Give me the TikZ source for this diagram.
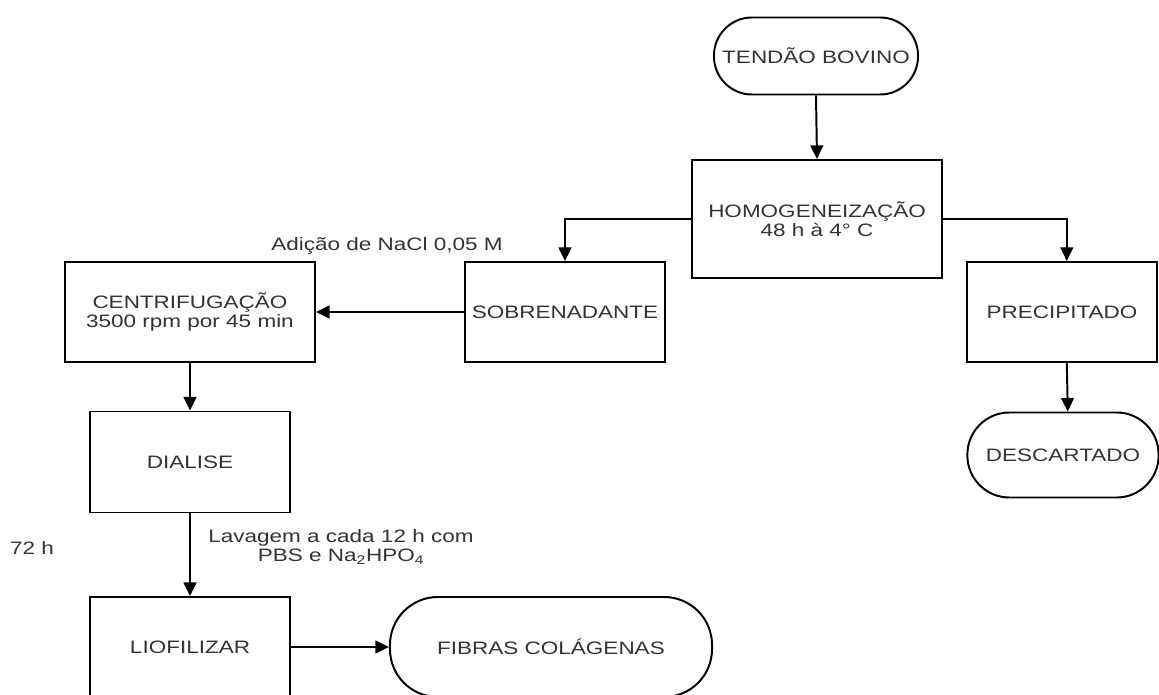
\documentclass[tikz,border=0pt]{standalone}
\usepackage{fontspec}
\setmainfont[FakeStretch=1.25]{Liberation Sans}
\usetikzlibrary{arrows.meta}
\definecolor{txt}{rgb}{0.2,0.2,0.2}

\begin{document}
\begin{tikzpicture}[
		x=0.025cm, y=-0.025cm,
		every node/.style={font=\fontsize{12.8}{13.5}\selectfont, text=txt},
		box/.style={draw, rectangle, line width=1.4pt, minimum width=5cm, minimum height=2.5cm, align=center},
		term/.style={draw, rectangle, rounded corners=0.95cm, line width=1.4pt, align=center},
		note/.style={align=center},
		arrow/.style={draw, line width=1.4pt, -{Triangle[length=0.34cm,width=0.32cm]}}
	]
	\useasboundingbox (0,0) rectangle (1159,695);
	\clip (0,0) rectangle (1159,695);

	% top
	\node[term, minimum width=5.1cm, minimum height=1.925cm] (tendao) at (816, 56) {TENDÃO BOVINO};
	\node[box, minimum width=6.25cm, minimum height=2.95cm] (homog) at (817, 219) {HOMOGENEIZAÇÃO\\48 h à 4° C};
	\draw[arrow] (tendao.south) -- (homog.north);

	% middle row
	\node[box] (sobrenadante) at (565, 312) {SOBRENADANTE};
	\node[box, minimum width=6.25cm] (centrif) at (190, 312) {CENTRIFUGAÇÃO\\3500 rpm por 45 min};
	\node[box, minimum width=4.75cm] (precipitado) at (1062, 312) {PRECIPITADO};
	\node[note] (nacl) at (387, 246) {Adição de NaCl 0,05 M};
	\draw[arrow] (homog.west) -| (sobrenadante.north);
	\draw[arrow] (homog.east) -| ([xshift=0.12cm]precipitado.north);
	\draw[arrow] (sobrenadante.west) -- (centrif.east);

	% right branch
	\node[term, minimum width=4.78cm, minimum height=2.125cm, rounded corners=1.05cm] (descartado) at (1063, 455) {DESCARTADO};
	\draw[arrow] ([xshift=0.12cm]precipitado.south) -- ([xshift=0.12cm]descartado.north);

	% left column
	\node[box, minimum height=2.525cm] (dialise) at (190, 462) {DIALISE};
	\node[box] (liofilizar) at (190, 647) {LIOFILIZAR};
	\node[term, minimum width=8.05cm, minimum height=2.5cm, rounded corners=1.2cm] (fibras) at (551, 647) {FIBRAS COLÁGENAS};
	\node[note] (lavagem) at (341, 547) {Lavagem a cada 12 h com\\PBS e Na\textsubscript{2}HPO\textsubscript{4}};
	\node[note] (horas) at (32, 548) {72 h};
	\draw[arrow] (centrif.south) -- (dialise.north);
	\draw[arrow] (dialise.south) -- (liofilizar.north);
	\draw[arrow] (liofilizar.east) -- (fibras.west);

\end{tikzpicture}
\end{document}
